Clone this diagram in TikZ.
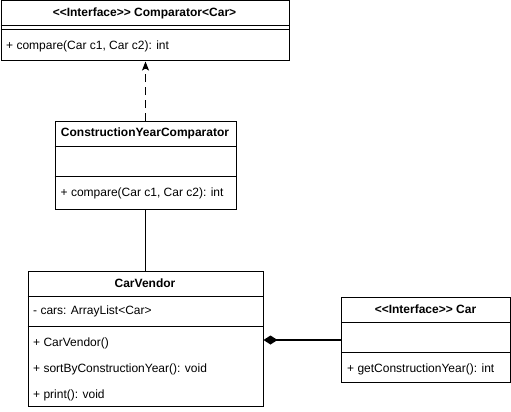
\documentclass[tikz,border=0pt]{standalone}
\usepackage{fontspec}
\setmainfont{Liberation Sans}[Ligatures=ResetAll]
\usetikzlibrary{arrows.meta}
\begin{document}
\begin{tikzpicture}[x=1pt,y=-1pt,
  box/.style={draw=black,line width=1pt,fill=white,inner sep=0pt,anchor=north west},
  sep/.style={line width=1pt},
  hd/.style={font=\fontsize{12}{14}\selectfont\bfseries,inner sep=0pt,anchor=center},
  mb/.style={font=\fontsize{12}{14}\selectfont,inner sep=0pt,anchor=west},
  realize/.style={line width=1pt,dash pattern=on 8pt off 5pt,-{Stealth[length=9pt,width=7pt,inset=2pt]}},
  compo/.style={line width=1.7pt,{Diamond[length=14pt,width=9pt]}-}]
\useasboundingbox[fill=white] (0,0) rectangle (511,412);
% Comparator<Car>
\node[box,minimum width=288pt,minimum height=60pt] (comp) at (0.5,0.5) {};
\draw[sep] (0.5,26) -- (288.5,26);
\draw[sep] (0.5,30) -- (288.5,30);
\node[hd] (comph) at (144.5,13) {{<}{<}Interface{>}{>} Comparator{<}Car{>}};
\node[mb] (compm) at (6,46) {+ compare(Car c1, Car c2): int};
% ConstructionYearComparator
\node[box,minimum width=181pt,minimum height=88pt] (cyc) at (54.5,121) {};
\draw[sep] (54.5,146) -- (235.5,146);
\draw[sep] (54.5,176) -- (235.5,176);
\node[hd] (cych) at (145,133.5) {ConstructionYearComparator};
\node[mb] (cycm) at (60.5,193) {+ compare(Car c1, Car c2): int};
% CarVendor
\node[box,minimum width=235pt,minimum height=135pt] (cv) at (27.5,271) {};
\draw[sep] (27.5,296) -- (262.5,296);
\draw[sep] (27.5,326) -- (262.5,326);
\node[hd] (cvh) at (145,283.5) {CarVendor};
\node[mb] (cva) at (33,311) {- cars: ArrayList{<}Car{>}};
\node[mb] (cvm1) at (33,343) {+ CarVendor()};
\node[mb] (cvm2) at (33,369) {+ sortByConstructionYear(): void};
\node[mb] (cvm3) at (33,395) {+ print(): void};
% Car
\node[box,minimum width=169pt,minimum height=85pt] (car) at (341,297) {};
\draw[sep] (341,322) -- (510,322);
\draw[sep] (341,352) -- (510,352);
\node[hd] (carh) at (425.5,309.5) {{<}{<}Interface{>}{>} Car};
\node[mb] (carm) at (347,369) {+ getConstructionYear(): int};
% connectors
\draw[realize] (cyc.north) -- (cyc.north |- comp.south);
\draw[line width=1pt] (cyc.south) -- (cyc.south |- cv.north);
\draw[compo] (cv.east |- car.west) -- (car.west);
\end{tikzpicture}
\end{document}
